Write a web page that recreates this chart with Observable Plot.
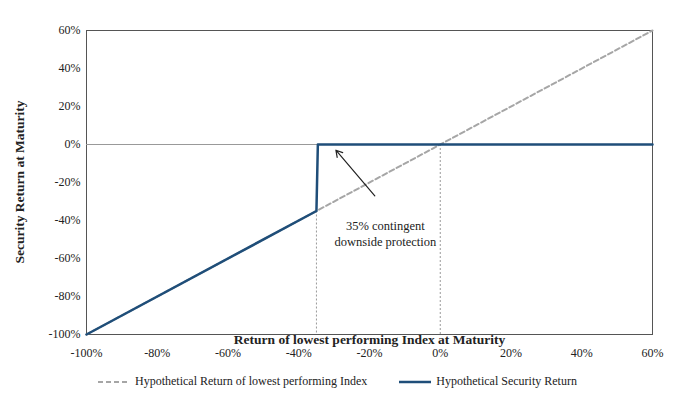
<!DOCTYPE html>
<html><head>
<script src="https://cdn.jsdelivr.net/npm/d3@7"></script>
<script src="https://cdn.jsdelivr.net/npm/@observablehq/plot@0.6"></script>
<style>
body{margin:0;background:#fff;font-family:"Liberation Serif",serif;}
#leg{display:flex;gap:0;font-size:12px;color:#222;margin-top:2px;}
.it{display:flex;align-items:center;}
</style>
</head><body>
<div id="c"></div>
<div id="leg">
 <div class="it" style="margin-left:98px"><svg width="34" height="10"><line x1="0" y1="5" x2="32" y2="5" stroke="#a6a6a6" stroke-width="2" stroke-dasharray="5,3"/></svg>&nbsp;Hypothetical Return of lowest performing Index</div>
 <div class="it" style="margin-left:32px"><svg width="34" height="10"><line x1="0" y1="5" x2="32" y2="5" stroke="#1f4e79" stroke-width="2.5"/></svg>&nbsp;Hypothetical Security Return</div>
</div>
<script>
const indexX = [-100, 60];
const indexY = [-100, 60];
const secX = [-100, -35, -34.6, 0, 60];
const secY = [-100, -35, 0, 0, 0];
const xTicks = [-100,-80,-60,-40,-20,0,20,40,60];
const yTicks = [-100,-80,-60,-40,-20,0,20,40,60];
const barrier = -35;

const idx = indexX.map((x,i)=>({x,y:indexY[i]}));
const sec = secX.map((x,i)=>({x,y:secY[i]}));
const fmt = d => d + "%";

const chart = Plot.plot({
  width: 692, height: 372,
  marginLeft: 86, marginRight: 40, marginTop: 30, marginBottom: 38,
  style: {fontFamily: "Liberation Serif, serif", fontSize: "12px", color: "#222"},
  x: {domain: [-100, 60], ticks: xTicks, tickFormat: fmt, tickSize: 0, tickPadding: 14, label: null},
  y: {domain: [-100, 60], ticks: yTicks, tickFormat: fmt, tickSize: 0, tickPadding: 6, label: null},
  marks: [
    Plot.frame({stroke: "#555"}),
    Plot.ruleY([0], {stroke: "#999", strokeWidth: 1}),
    Plot.ruleX([barrier], {y1: barrier, y2: -100, stroke: "#999", strokeDasharray: "2,2"}),
    Plot.ruleX([0], {y1: 0, y2: -100, stroke: "#999", strokeDasharray: "2,2"}),
    Plot.line(idx, {x: "x", y: "y", stroke: "#a6a6a6", strokeWidth: 2, strokeDasharray: "5,3"}),
    Plot.line(sec, {x: "x", y: "y", stroke: "#1f4e79", strokeWidth: 2.5}),
    Plot.arrow([{x1: -18.5, y1: -27, x2: -29.5, y2: -3}], {x1: "x1", y1: "y1", x2: "x2", y2: "y2", stroke: "#222", strokeWidth: 1.2, headLength: 9}),
    Plot.text(["35% contingent", "downside protection"], {x: -15.5, y: (d,i)=> i===0 ? -43 : -51.5, text: d=>d, fontSize: 12.5, fill: "#222"}),
    Plot.text(["Return of lowest performing Index at Maturity"], {x: -20, y: -100, dy: 5, text: d=>d, fontWeight: "bold", fontSize: 13.5, fill: "#222"})
  ]
});
const svg = d3.select(chart);
svg.append("text").attr("transform","translate(24,182) rotate(-90)").attr("text-anchor","middle")
  .style("font-weight","bold").style("font-size","13.5px").attr("fill","#222").text("Security Return at Maturity");
document.getElementById("c").append(chart);
</script>
</body></html>
